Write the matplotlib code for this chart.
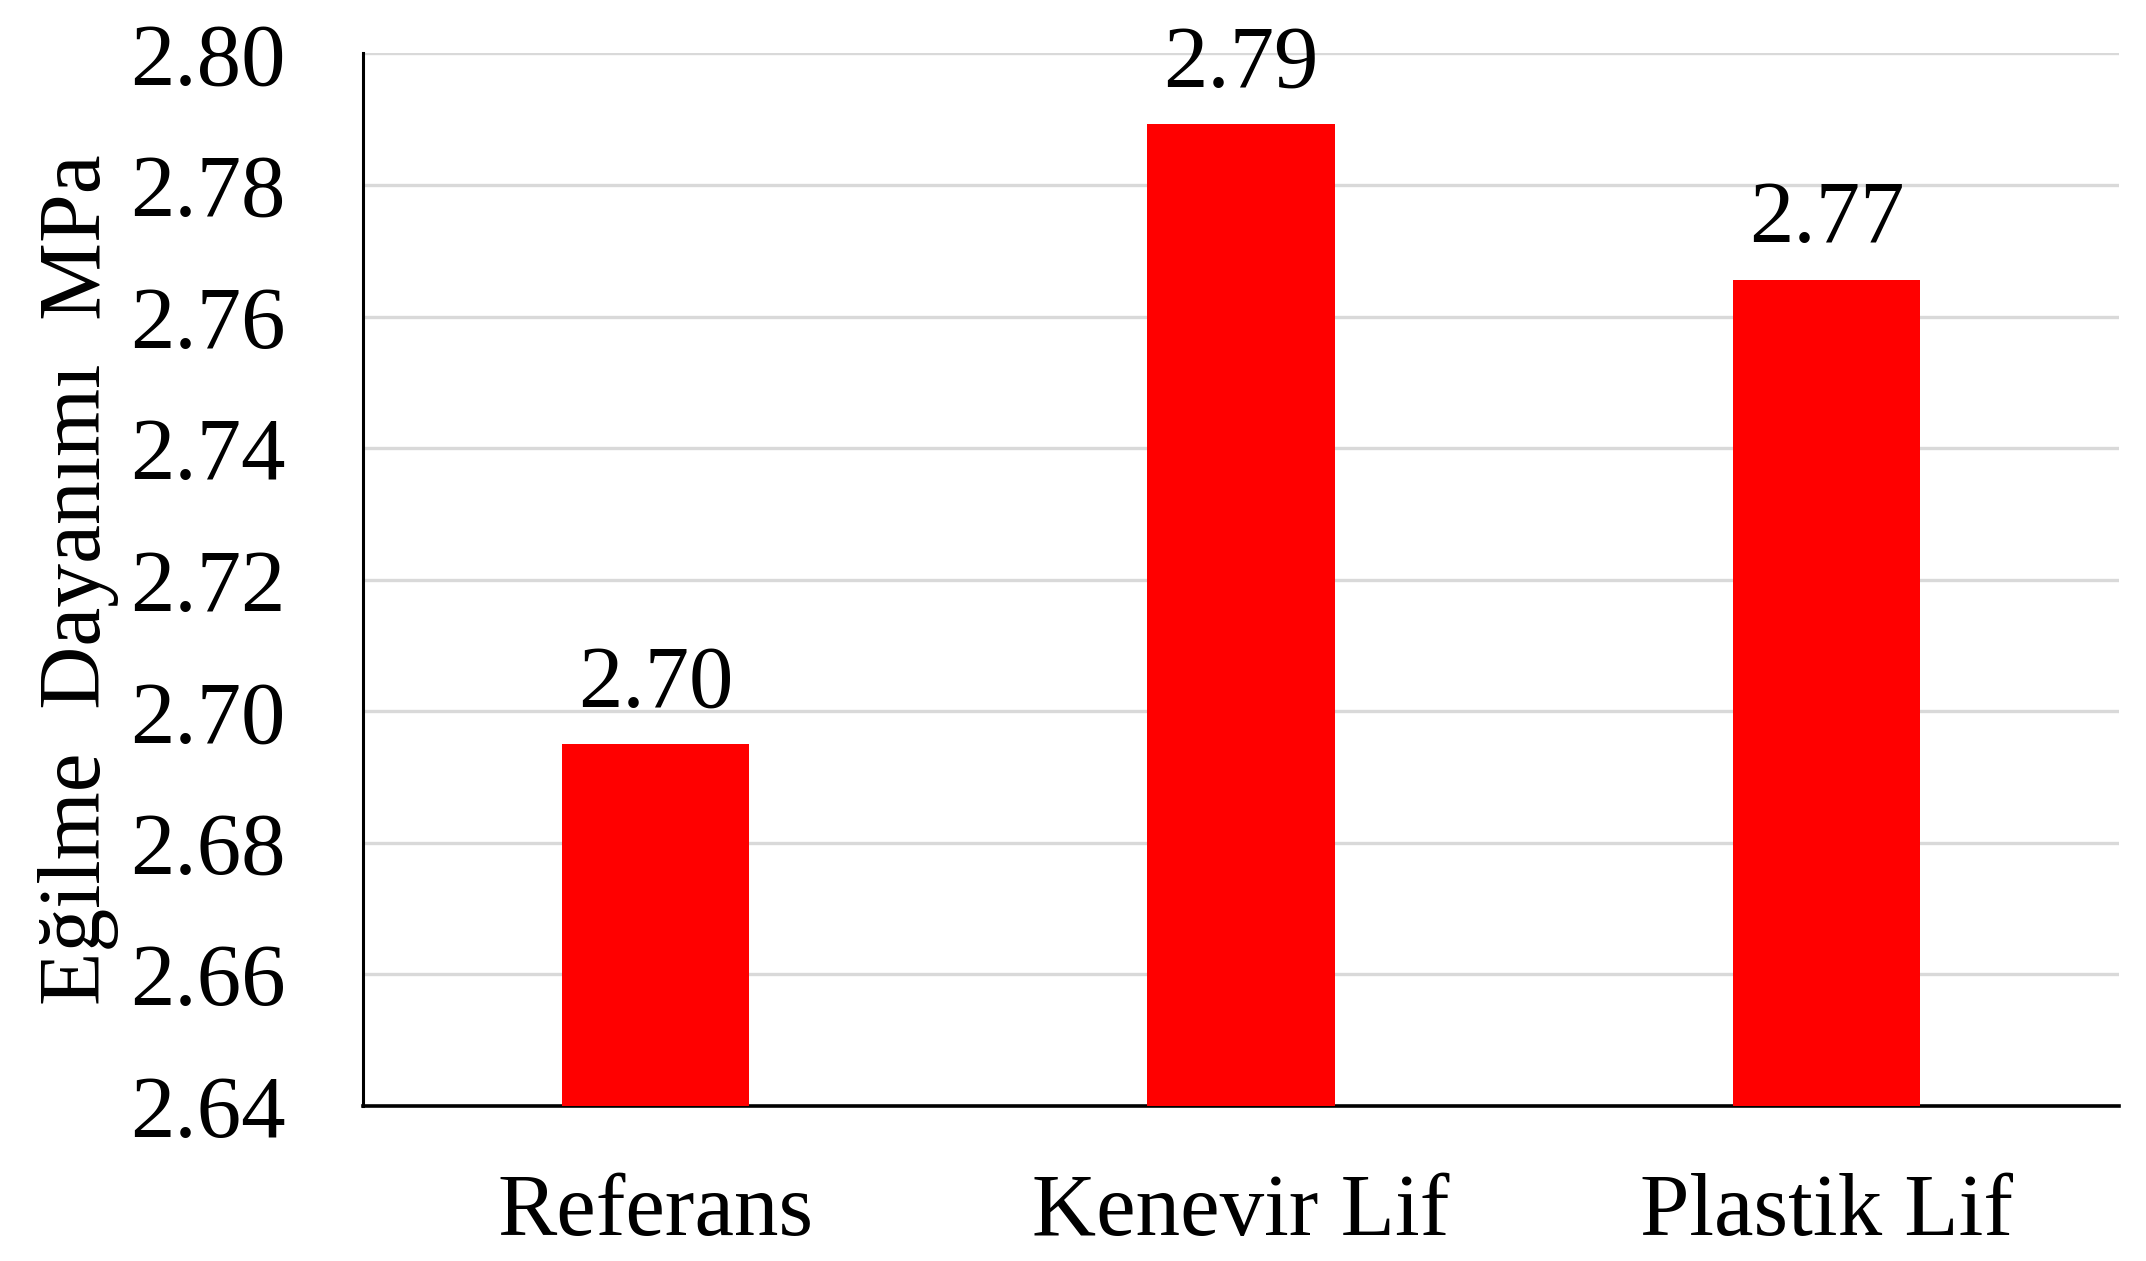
import matplotlib
matplotlib.use("Agg")
import matplotlib.pyplot as plt

categories = ["Referans", "Kenevir Lif", "Plastik Lif"]
values = [2.6951, 2.7892, 2.7656]
y_ticks = [2.64, 2.66, 2.68, 2.70, 2.72, 2.74, 2.76, 2.78, 2.80]
y_label = "Eğilme  Dayanımı  MPa"

plt.rcParams["font.family"] = ["Liberation Serif", "DejaVu Serif"]

fig = plt.figure(figsize=(21.46, 12.61), dpi=100)
ax = fig.add_axes([0.1692, 0.1229, 0.8182, 0.8348])

x = list(range(len(categories)))
ax.bar(x, values, width=0.32, color="#ff0000", zorder=3)

for xi, v in zip(x, values):
    ax.text(xi, v + 0.0028, f"{v:.2f}", ha="center", va="bottom", fontsize=64)

ax.set_xlim(-0.5, 2.5)
ax.set_ylim(2.64, 2.80)
ax.set_yticks(y_ticks)
ax.set_yticklabels([f"{t:.2f}" for t in y_ticks])
ax.set_xticks(x)
ax.set_xticklabels(categories)

ax.tick_params(axis="y", length=0, pad=56, labelsize=64)
ax.tick_params(axis="x", length=0, pad=48, labelsize=64)

ax.grid(axis="y", color="#d9d9d9", linewidth=2.4, zorder=0)
ax.set_axisbelow(True)

for side in ("top", "right"):
    ax.spines[side].set_visible(False)
ax.spines["left"].set_linewidth(2.2)
ax.spines["bottom"].set_linewidth(2.6)

ax.set_ylabel(y_label, fontsize=63)
ax.yaxis.set_label_coords(-0.139, 0.5)

fig.savefig("out.png", dpi=100, facecolor="white")
